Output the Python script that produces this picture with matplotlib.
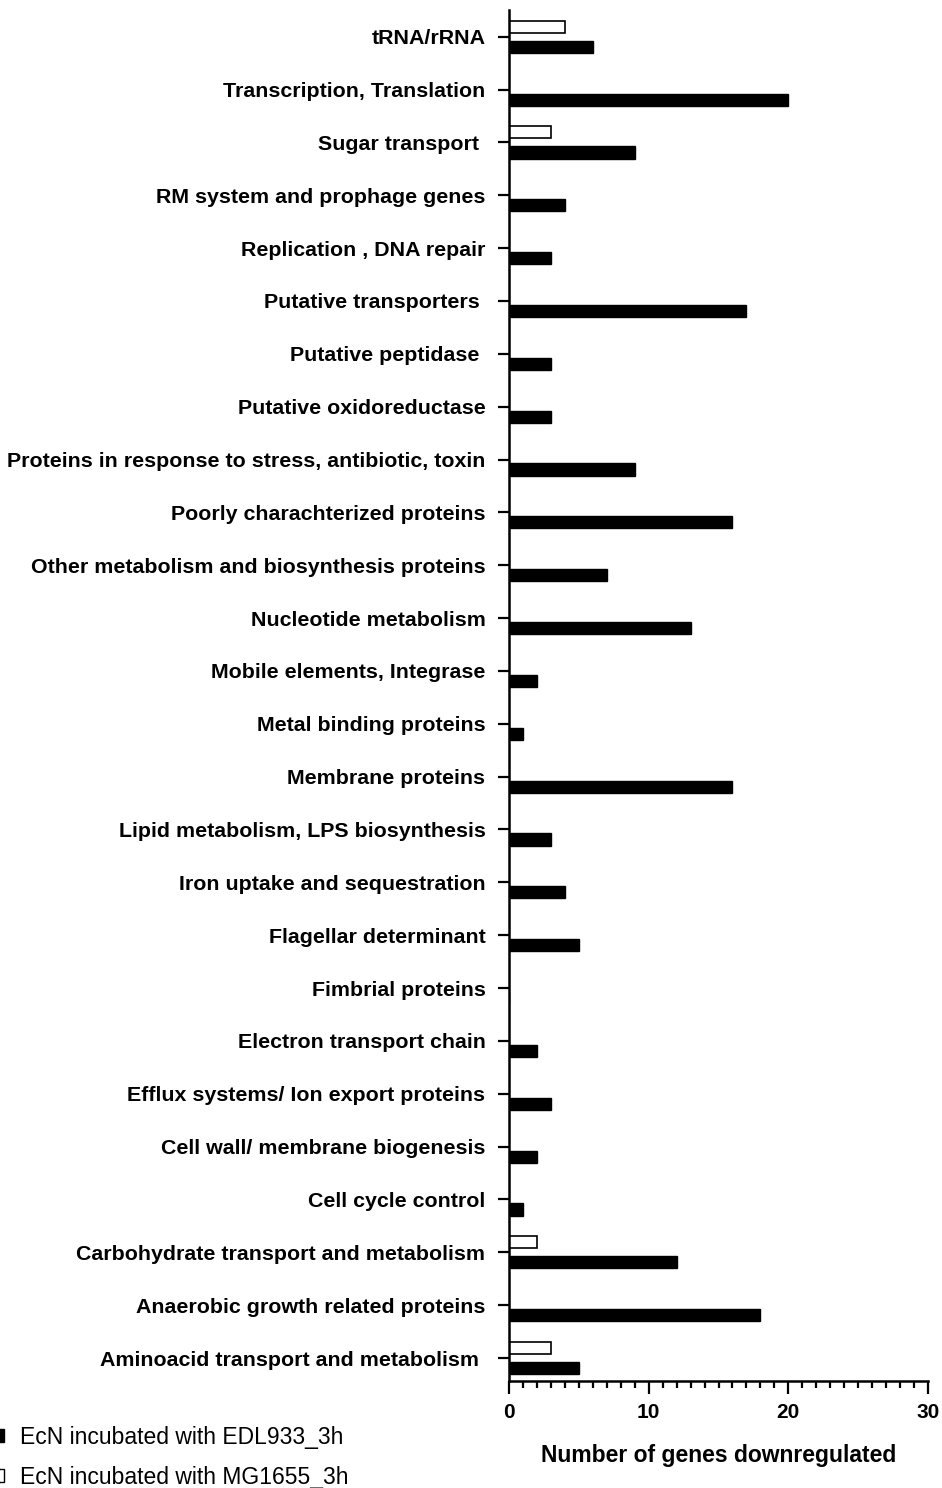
import matplotlib
matplotlib.use('Agg')
import matplotlib.pyplot as plt
from matplotlib.patches import Patch
from matplotlib.ticker import MultipleLocator
import numpy as np

plt.rcParams['font.family'] = ['Liberation Sans', 'DejaVu Sans']

# Functional categories, listed top to bottom
categories = [
    'tRNA/rRNA',
    'Transcription, Translation',
    'Sugar transport ',
    'RM system and prophage genes',
    'Replication , DNA repair',
    'Putative transporters ',
    'Putative peptidase ',
    'Putative oxidoreductase',
    'Proteins in response to stress, antibiotic, toxin',
    'Poorly charachterized proteins',
    'Other metabolism and biosynthesis proteins',
    'Nucleotide metabolism',
    'Mobile elements, Integrase',
    'Metal binding proteins',
    'Membrane proteins',
    'Lipid metabolism, LPS biosynthesis',
    'Iron uptake and sequestration',
    'Flagellar determinant',
    'Fimbrial proteins',
    'Electron transport chain',
    'Efflux systems/ Ion export proteins',
    'Cell wall/ membrane biogenesis',
    'Cell cycle control',
    'Carbohydrate transport and metabolism',
    'Anaerobic growth related proteins',
    'Aminoacid transport and metabolism ',
]

# number of downregulated genes per category
edl933 = [6, 20, 9, 4, 3, 17, 3, 3, 9, 16, 7, 13, 2, 1, 16, 3, 4, 5, 0, 2, 3, 2, 1, 12, 18, 5]
mg1655 = [4, 0, 3, 0, 0, 0, 0, 0, 0, 0, 0, 0, 0, 0, 0, 0, 0, 0, 0, 0, 0, 0, 0, 2, 0, 3]

series_labels = ['EcN incubated with EDL933_3h', 'EcN incubated with MG1655_3h']

fig = plt.figure(figsize=(9.42, 14.88), dpi=100)
ax = fig.add_axes([509 / 942, 107 / 1488, 419 / 942, 1371 / 1488])

y = np.arange(len(categories))
h = 0.23
off = 0.19

ax.barh(y + off, edl933, height=h, color='black', edgecolor='black', linewidth=1)
ax.barh(y - off, mg1655, height=h, color='white', edgecolor='black', linewidth=1.2)

ax.set_yticks(y)
ax.set_yticklabels(categories, fontsize=15.4, fontweight='bold')
ax.set_ylim(len(categories) - 0.565, -0.505)

ax.set_xlim(0, 30)
ax.xaxis.set_major_locator(MultipleLocator(10))
ax.xaxis.set_minor_locator(MultipleLocator(1))
ax.tick_params(axis='x', which='major', labelsize=15, length=9, width=1.6, pad=7)
ax.tick_params(axis='x', which='minor', length=5, width=1.6)
ax.tick_params(axis='y', which='major', length=8, width=1.6, pad=9)
for lbl in ax.get_xticklabels():
    lbl.set_fontweight('bold')

ax.set_xlabel('Number of genes downregulated', fontsize=16.5, fontweight='bold', labelpad=16)

for side in ['top', 'right']:
    ax.spines[side].set_visible(False)
for side in ['left', 'bottom']:
    ax.spines[side].set_linewidth(1.8)

handles = [Patch(facecolor='black', edgecolor='black'),
           Patch(facecolor='white', edgecolor='black')]
fig.legend(handles, series_labels, loc='upper left', bbox_to_anchor=(-0.008, 0.042),
           frameon=False, fontsize=16.5, handlelength=0.5, handleheight=0.5,
           handletextpad=0.7, labelspacing=0.75, borderpad=0, borderaxespad=0)

fig.savefig('out.png', dpi=100)
